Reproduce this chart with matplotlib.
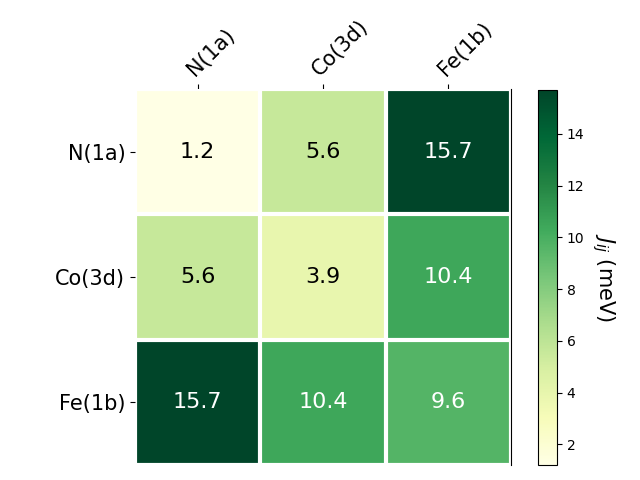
import matplotlib
matplotlib.use("Agg")
import matplotlib.pyplot as plt
import numpy as np

# Datos
sitios = ["N(1a)", "Co(3d)", "Fe(1b)"]
J = np.array([[1.2, 5.6, 15.7],
              [5.6, 3.9, 10.4],
              [15.7, 10.4, 9.6]])

fig = plt.figure(figsize=(6.4, 4.8), dpi=100)
ax = fig.add_axes([135/640, 15/480, 376/640, 376/480])
cax = fig.add_axes([538/640, 15/480, 19/640, 375/480])

im = ax.imshow(J, cmap="YlGn", aspect="auto")

# Barra de color
cbar = fig.colorbar(im, cax=cax)
cbar.ax.set_ylabel("$J_{ij}$ (meV)", rotation=-90, va="bottom", fontsize=15)

# Etiquetas
ax.set_xticks(np.arange(len(sitios)), labels=sitios, fontsize=15)
ax.set_yticks(np.arange(len(sitios)), labels=sitios, fontsize=15)
ax.tick_params(top=True, bottom=False, labeltop=True, labelbottom=False)
plt.setp(ax.get_xticklabels(), rotation=45, ha="left", rotation_mode="anchor")

# Rejilla blanca
ax.spines[:].set_visible(False)
ax.spines["right"].set_visible(True)
ax.set_xticks(np.arange(len(sitios) + 1) - .5, minor=True)
ax.set_yticks(np.arange(len(sitios) + 1) - .5, minor=True)
ax.grid(which="minor", color="w", linestyle="-", linewidth=3)
ax.tick_params(which="minor", bottom=False, left=False, top=False)

# Anotaciones
umbral = im.norm(J.max()) / 2.
for i in range(len(sitios)):
    for j in range(len(sitios)):
        color = "white" if im.norm(J[i, j]) > umbral else "black"
        ax.text(j, i, f"{J[i, j]:.1f}", ha="center", va="center", color=color, fontsize=16)

fig.savefig("out.png", dpi=100)
